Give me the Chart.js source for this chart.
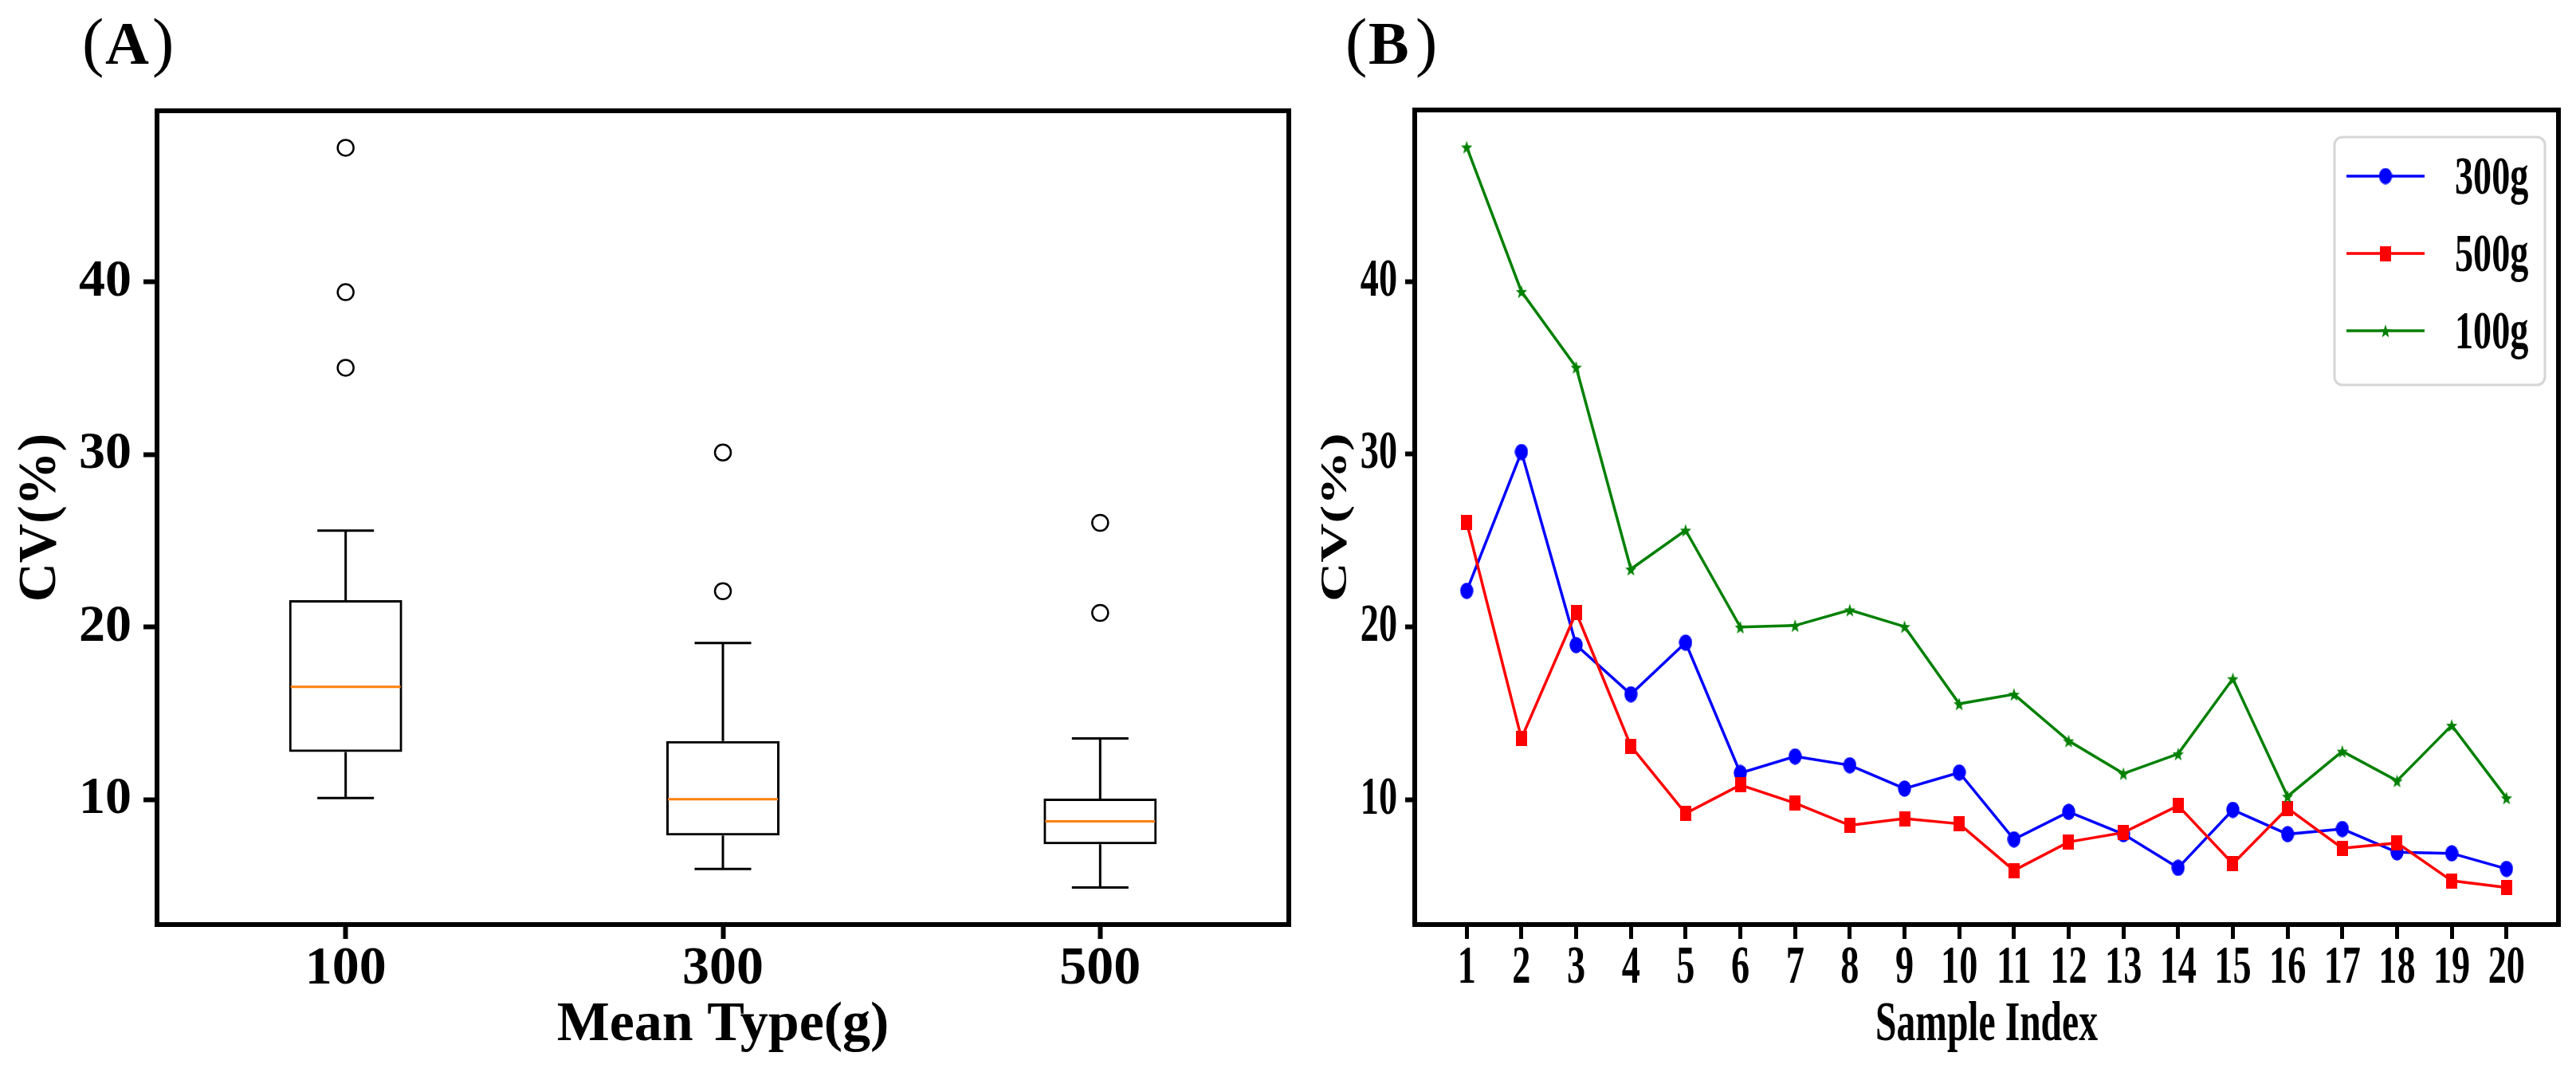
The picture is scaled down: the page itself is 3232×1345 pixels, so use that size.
<!DOCTYPE html>
<html>
<head>
<meta charset="utf-8">
<script src="https://cdn.jsdelivr.net/npm/chart.js@4.4.1/dist/chart.umd.min.js"></script>
<style>
html,body{margin:0;padding:0;background:#fff;overflow:hidden;}
#wrap{position:relative;width:3232px;height:1345px;background:#fff;}
canvas{position:absolute;top:0;}
</style>
</head>
<body>
<div id="wrap">
<canvas id="cA" width="1640" height="1345" style="left:0;width:1640px;height:1345px"></canvas>
<canvas id="cB" width="1592" height="1345" style="left:1640px;width:1592px;height:1345px"></canvas>
</div>
<script>
// ---------------- data ----------------
const sampleIndex = [1, 2, 3, 4, 5, 6, 7, 8, 9, 10, 11, 12, 13, 14, 15, 16, 17, 18, 19, 20];
const cv300 = [22.08, 30.12, 18.94, 16.09, 19.08, 11.53, 12.49, 11.98, 10.63, 11.56, 7.69, 9.28, 7.99, 6.04, 9.40, 7.99, 8.29, 6.94, 6.88, 5.98];
const cv500 = [26.04, 13.54, 20.82, 13.09, 9.19, 10.84, 9.79, 8.50, 8.89, 8.59, 5.89, 7.54, 8.08, 9.64, 6.28, 9.49, 7.18, 7.48, 5.29, 4.90];
const cv100 = [47.78, 39.41, 35.03, 23.34, 25.59, 19.98, 20.07, 20.97, 20.01, 15.54, 16.09, 13.39, 11.50, 12.64, 16.99, 10.18, 12.79, 11.08, 14.29, 10.09];
const boxCategories = ['100', '300', '500'];
const boxSeries = [cv100, cv300, cv500];
const lineLabels = ['300g', '500g', '100g'];
const lineSeries = [cv300, cv500, cv100];
const lineColors = ['#0000ff', '#ff0000', '#008000'];
const lineMarkers = ['circle', 'square', 'star'];
const yTicks = [10, 20, 30, 40];
const panelLabels = ['A', 'B'];
const titleA = { x: 'Mean Type(g)', y: 'CV(%)' };
const titleB = { x: 'Sample Index', y: 'CV(%)' };

const FONT = "'Liberation Serif', 'Times New Roman', serif";
const SX = 0.68; // horizontal condensation of panel B text

// ---------------- helpers ----------------
function pct(sorted, p) {
  const idx = p * (sorted.length - 1);
  const lo = Math.floor(idx), hi = Math.ceil(idx);
  return sorted[lo] + (sorted[hi] - sorted[lo]) * (idx - lo);
}
function boxStats(vals) {
  const s = vals.slice().sort((a, b) => a - b);
  const q1 = pct(s, 0.25), med = pct(s, 0.5), q3 = pct(s, 0.75);
  const iqr = q3 - q1;
  const hiF = q3 + 1.5 * iqr, loF = q1 - 1.5 * iqr;
  const inside = s.filter(v => v >= loF && v <= hiF);
  return { q1, med, q3, wLo: inside[0], wHi: inside[inside.length - 1], fliers: s.filter(v => v < loF || v > hiF) };
}
const stats = boxSeries.map(boxStats);
const allVals = [].concat(cv100, cv300, cv500);
const dMin = Math.min(...allVals), dMax = Math.max(...allVals);
const yMin = dMin - 0.05 * (dMax - dMin), yMax = dMax + 0.05 * (dMax - dMin);
const xFirst = sampleIndex[0], xLast = sampleIndex[sampleIndex.length - 1];
const xMin = xFirst - 0.05 * (xLast - xFirst), xMax = xLast + 0.05 * (xLast - xFirst);

function font(size, weight, lh) { return { family: FONT, size: size, weight: weight || 'bold', lineHeight: lh || 1 }; }

function markerCanvas(kind, color) {
  const c = document.createElement('canvas');
  let w, h;
  if (kind === 'circle') { w = 17; h = 21; }
  else if (kind === 'square') { w = 14; h = 19; }
  else { w = 14; h = 18; }
  c.width = w; c.height = h;
  const g = c.getContext('2d');
  g.fillStyle = color;
  if (kind === 'circle') {
    g.beginPath(); g.ellipse(w / 2, h / 2, w / 2 - 0.3, h / 2 - 0.3, 0, 0, Math.PI * 2); g.fill();
  } else if (kind === 'square') {
    g.fillRect(0, 0, w, h);
  } else {
    g.beginPath();
    const cx = w / 2, cy = h / 2 + 1, R = h / 2, r = R * 0.42, k = (w / 2) / R;
    for (let i = 0; i < 10; i++) {
      const a = -Math.PI / 2 + i * Math.PI / 5;
      const rr = i % 2 === 0 ? R : r;
      const px = cx + Math.cos(a) * rr * k * 1.05, py = cy + Math.sin(a) * rr;
      if (i === 0) g.moveTo(px, py); else g.lineTo(px, py);
    }
    g.closePath(); g.fill();
  }
  return c;
}
const markerImgs = lineMarkers.map((m, i) => markerCanvas(m, lineColors[i]));

function condense(ctx, sx) {
  const of = ctx.fillText.bind(ctx);
  const om = ctx.measureText.bind(ctx);
  ctx.rawFillText = of;
  ctx.fillText = function (t, x, y, mw) {
    const m = this.getTransform();
    const p = m.transformPoint(new DOMPoint(x, y));
    this.save();
    this.setTransform(new DOMMatrix().translate(p.x, p.y).scale(sx, 1).translate(-p.x, -p.y).multiply(m));
    if (mw === undefined) of(t, x, y); else of(t, x, y, mw);
    this.restore();
  };
  ctx.measureText = function (t) {
    const r = om(t);
    return {
      width: r.width * sx,
      actualBoundingBoxLeft: r.actualBoundingBoxLeft * sx,
      actualBoundingBoxRight: r.actualBoundingBoxRight * sx,
      actualBoundingBoxAscent: r.actualBoundingBoxAscent,
      actualBoundingBoxDescent: r.actualBoundingBoxDescent,
      fontBoundingBoxAscent: r.fontBoundingBoxAscent,
      fontBoundingBoxDescent: r.fontBoundingBoxDescent
    };
  };
}

const framePlugin = {
  id: 'frame',
  afterDatasetsDraw(chart) {
    const ctx = chart.ctx, a = chart.chartArea;
    ctx.save();
    ctx.strokeStyle = '#000';
    ctx.lineWidth = 6;
    ctx.strokeRect(a.left, a.top, a.right - a.left, a.bottom - a.top);
    ctx.restore();
  }
};

function panelLabelPlugin(label, x0) {
  return {
    id: 'panelLabel',
    afterDraw(chart) {
      const ctx = chart.ctx;
      const ft = ctx.rawFillText || ctx.fillText.bind(ctx);
      ctx.save();
      ctx.fillStyle = '#000';
      ctx.textBaseline = 'alphabetic';
      ctx.textAlign = 'left';
      ctx.font = `normal 82px ${FONT}`;
      ft('(', x0, 80);
      ctx.font = `bold 76px ${FONT}`;
      ft(label, x0 + 29, 80);
      ctx.font = `normal 82px ${FONT}`;
      ft(')', x0 + 88, 80);
      ctx.restore();
    }
  };
}

// ---------------- panel A: box plot ----------------
const boxPlugin = {
  id: 'boxParts',
  afterDatasetsDraw(chart) {
    const ctx = chart.ctx, xs = chart.scales.x, ys = chart.scales.y;
    const unit = (xs.right - xs.left) / boxCategories.length;
    const capHalf = 0.075 * unit, boxHalf = 0.15 * unit;
    ctx.save();
    stats.forEach((s, i) => {
      const x = xs.getPixelForValue(i);
      ctx.strokeStyle = '#000';
      ctx.lineWidth = 3;
      ctx.beginPath();
      ctx.moveTo(x, ys.getPixelForValue(s.q3)); ctx.lineTo(x, ys.getPixelForValue(s.wHi));
      ctx.moveTo(x, ys.getPixelForValue(s.q1)); ctx.lineTo(x, ys.getPixelForValue(s.wLo));
      ctx.moveTo(x - capHalf, ys.getPixelForValue(s.wHi)); ctx.lineTo(x + capHalf, ys.getPixelForValue(s.wHi));
      ctx.moveTo(x - capHalf, ys.getPixelForValue(s.wLo)); ctx.lineTo(x + capHalf, ys.getPixelForValue(s.wLo));
      ctx.stroke();
      ctx.strokeStyle = '#ff7f0e';
      ctx.lineWidth = 3;
      ctx.beginPath();
      ctx.moveTo(x - boxHalf + 2, ys.getPixelForValue(s.med)); ctx.lineTo(x + boxHalf - 2, ys.getPixelForValue(s.med));
      ctx.stroke();
    });
    ctx.restore();
  }
};

const flierData = [];
stats.forEach((s, i) => s.fliers.forEach(v => flierData.push({ x: boxCategories[i], y: v })));

new Chart(document.getElementById('cA').getContext('2d'), {
  type: 'bar',
  data: {
    labels: boxCategories,
    datasets: [
      {
        type: 'bar',
        data: stats.map(s => [s.q1, s.q3]),
        backgroundColor: 'rgba(255,255,255,0)',
        borderColor: '#000',
        borderWidth: 3,
        borderSkipped: false,
        categoryPercentage: 1,
        barPercentage: 0.3,
        grouped: false
      },
      {
        type: 'line',
        data: flierData,
        showLine: false,
        pointStyle: 'circle',
        pointRadius: 10,
        pointBorderWidth: 2.5,
        pointBorderColor: '#000',
        pointBackgroundColor: 'rgba(255,255,255,0)'
      }
    ]
  },
  options: {
    responsive: false,
    animation: false,
    events: [],
    layout: { padding: { left: 0, top: 139, right: 23, bottom: 0 } },
    plugins: { legend: { display: false }, tooltip: { enabled: false }, title: { display: false } },
    scales: {
      x: {
        type: 'category',
        offset: true,
        afterFit: s => { s.height = 185; },
        grid: { display: true, offset: false, drawOnChartArea: false, drawTicks: true, tickLength: 18, tickWidth: 6, tickColor: '#000' },
        border: { display: false },
        ticks: { color: '#000', font: font(68), padding: 4, maxRotation: 0, autoSkip: false },
        title: { display: true, text: titleA.x, color: '#000', font: font(70), padding: { top: 0, bottom: 23 } }
      },
      y: {
        type: 'linear',
        min: yMin, max: yMax,
        afterFit: s => { s.width = 197; },
        afterBuildTicks: s => { s.ticks = yTicks.map(v => ({ value: v })); },
        grid: { display: true, drawOnChartArea: false, drawTicks: true, tickLength: 17, tickWidth: 6, tickColor: '#000' },
        border: { display: false },
        ticks: { color: '#000', font: font(66), padding: 15 },
        title: { display: true, text: titleA.y, color: '#000', font: font(68), padding: { top: 17, bottom: 0 } }
      }
    }
  },
  plugins: [boxPlugin, framePlugin, panelLabelPlugin(panelLabels[0], 103)]
});

// ---------------- panel B: line chart ----------------
const ctxB = document.getElementById('cB').getContext('2d');
condense(ctxB, SX);

const legendPlugin = {
  id: 'boxLegend',
  afterDraw(chart) {
    const ctx = chart.ctx, a = chart.chartArea;
    const fw = 264, fh = 311;
    const fx = a.right - 17 - fw, fy = a.top + 34;
    ctx.save();
    ctx.beginPath();
    ctx.roundRect(fx, fy, fw, fh, 10);
    ctx.fillStyle = 'rgba(255,255,255,0.85)';
    ctx.fill();
    ctx.strokeStyle = '#d6d6d6';
    ctx.lineWidth = 3;
    ctx.stroke();
    chart.data.datasets.forEach((ds, i) => {
      const ry = fy + 49 + i * 97;
      ctx.strokeStyle = ds.borderColor;
      ctx.lineWidth = 3.5;
      ctx.beginPath(); ctx.moveTo(fx + 15, ry); ctx.lineTo(fx + 113, ry); ctx.stroke();
      const img = ds.pointStyle;
      ctx.drawImage(img, fx + 64 - img.width / 2, ry - img.height / 2);
      ctx.fillStyle = '#000';
      ctx.font = `bold 68px ${FONT}`;
      ctx.textAlign = 'left';
      ctx.textBaseline = 'middle';
      ctx.fillText(ds.label, fx + 151, ry + 4);
    });
    ctx.restore();
  }
};

new Chart(ctxB, {
  type: 'line',
  data: {
    datasets: lineSeries.map((vals, i) => ({
      label: lineLabels[i],
      data: sampleIndex.map((x, j) => ({ x: x, y: vals[j] })),
      borderColor: lineColors[i],
      backgroundColor: lineColors[i],
      borderWidth: 3.5,
      pointStyle: markerImgs[i],
      pointRadius: 8,
      tension: 0,
      fill: false,
      order: 3 - i
    }))
  },
  options: {
    responsive: false,
    animation: false,
    events: [],
    layout: { padding: { left: 0, top: 138, right: 22, bottom: 0 } },
    plugins: { legend: { display: false }, tooltip: { enabled: false }, title: { display: false } },
    scales: {
      x: {
        type: 'linear',
        min: xMin, max: xMax,
        afterFit: s => { s.height = 185; },
        afterBuildTicks: s => { s.ticks = sampleIndex.map(v => ({ value: v })); },
        grid: { display: true, drawOnChartArea: false, drawTicks: true, tickLength: 18, tickWidth: 5, tickColor: '#000' },
        border: { display: false },
        ticks: { color: '#000', font: font(68), padding: 3, maxRotation: 0, autoSkip: false, callback: v => String(v) },
        title: { display: true, text: titleB.x, color: '#000', font: font(70), padding: { top: 0, bottom: 23 } }
      },
      y: {
        type: 'linear',
        min: yMin, max: yMax,
        afterFit: s => { s.width = 135; },
        afterBuildTicks: s => { s.ticks = yTicks.map(v => ({ value: v })); },
        grid: { display: true, drawOnChartArea: false, drawTicks: true, tickLength: 12, tickWidth: 6, tickColor: '#000' },
        border: { display: false },
        ticks: { color: '#000', font: font(68), padding: 10 },
        title: { display: true, text: titleB.y, color: '#000', font: font(68), padding: { top: 3, bottom: 0 } }
      }
    }
  },
  plugins: [framePlugin, legendPlugin, panelLabelPlugin(panelLabels[1], 48)]
});
</script>
</body>
</html>
